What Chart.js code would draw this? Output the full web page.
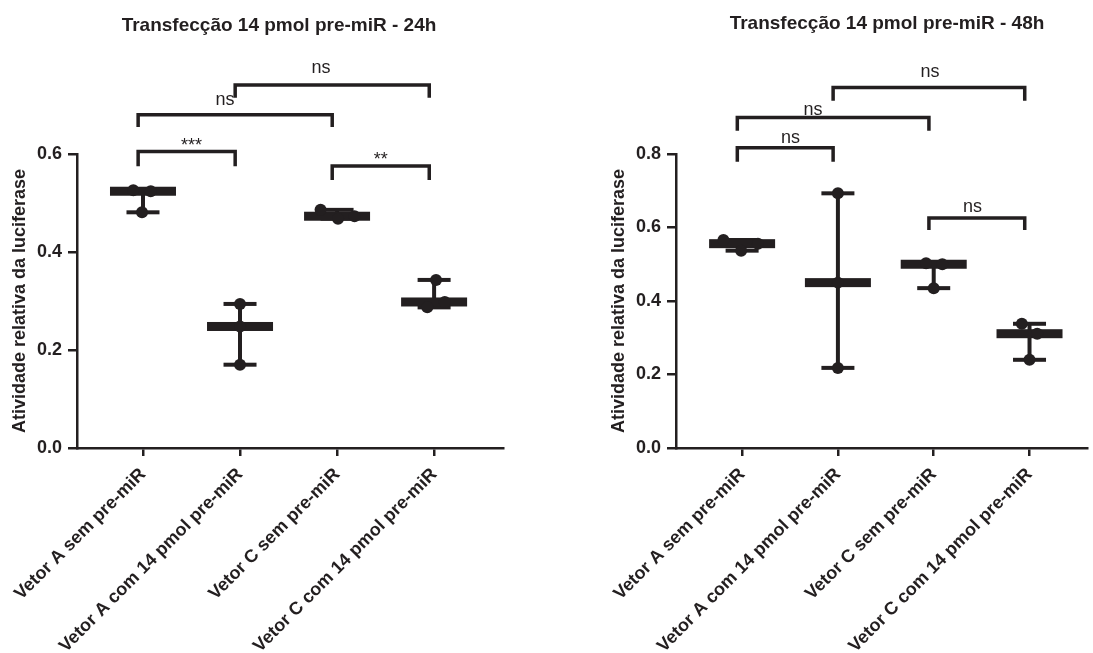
<!DOCTYPE html>
<html><head><meta charset="utf-8">
<script src="https://cdn.jsdelivr.net/npm/chart.js@4.4.1/dist/chart.umd.min.js"></script>
<style>
html,body{margin:0;padding:0;background:#fff;}
#wrap{position:relative;width:1093px;height:653px;overflow:hidden;background:#fff;}
#c24{position:absolute;left:0;top:0;width:545px;height:653px;}
#c48{position:absolute;left:545px;top:0;width:548px;height:653px;}
</style></head><body>
<div id="wrap"><canvas id="c24" width="545" height="653"></canvas><canvas id="c48" width="548" height="653"></canvas></div>
<script>
// ---------- data ----------
const categories = ["Vetor A sem pre-miR", "Vetor A com 14 pmol pre-miR", "Vetor C sem pre-miR", "Vetor C com 14 pmol pre-miR"];
const yAxisTitle = "Atividade relativa da luciferase";
const title24 = "Transfecção 14 pmol pre-miR - 24h";
const title48 = "Transfecção 14 pmol pre-miR - 48h";
const yMax24 = 0.6;
const yMax48 = 0.8;
const yStep = 0.2;

// replicate values per group (3 each)
const values24 = [
  [0.526, 0.524, 0.481],
  [0.294, 0.248, 0.170],
  [0.486, 0.468, 0.473],
  [0.343, 0.287, 0.298]
];
const jitter24 = [
  [-0.10, 0.08, -0.01],
  [0, 0, 0],
  [-0.17, 0.01, 0.18],
  [0.02, -0.07, 0.11]
];
const values48 = [
  [0.566, 0.537, 0.556],
  [0.693, 0.450, 0.218],
  [0.503, 0.500, 0.435],
  [0.338, 0.311, 0.240]
];
const jitter48 = [
  [-0.195, -0.01, 0.165],
  [0, 0, 0],
  [-0.08, 0.09, 0],
  [-0.08, 0.08, 0]
];

// significance comparisons: groups (1-based), label, bracket top, leg end, label baseline, label x
const brackets24 = [
  {from: 1, to: 2, label: "***", top: 0.605, leg: 0.575, text: 0.606, at: 1.50},
  {from: 3, to: 4, label: "**",  top: 0.5755, leg: 0.547, text: 0.577, at: 3.45},
  {from: 1, to: 3, label: "ns",  top: 0.680, leg: 0.655, text: 0.699, at: 1.845},
  {from: 2, to: 4, label: "ns",  top: 0.741, leg: 0.715, text: 0.765, at: 2.835}
];
const brackets48 = [
  {from: 1, to: 2, label: "ns", top: 0.817, leg: 0.779, text: 0.830, at: 1.504},
  {from: 3, to: 4, label: "ns", top: 0.626, leg: 0.593, text: 0.643, at: 3.405},
  {from: 1, to: 3, label: "ns", top: 0.899, leg: 0.863, text: 0.907, at: 1.74},
  {from: 2, to: 4, label: "ns", top: 0.981, leg: 0.945, text: 1.010, at: 2.96}
];

// ---------- drawing ----------
const INK = '#231f20';
const FAM = "'Liberation Sans', Arial, Helvetica, sans-serif";

const medianRange = {
  id: 'medianRange',
  beforeDatasetsDraw(chart, args, opts) {
    const {ctx} = chart; const x = chart.scales.x, y = chart.scales.y;
    ctx.save();
    ctx.fillStyle = INK; ctx.strokeStyle = INK;
    opts.groups.forEach((vals, i) => {
      const s = [...vals].sort((a, b) => a - b);
      const lo = s[0], hi = s[s.length - 1], med = s[Math.floor(s.length / 2)];
      const cx = x.getPixelForValue(i + 1);
      ctx.lineWidth = 4;
      ctx.beginPath();
      ctx.moveTo(cx, y.getPixelForValue(lo));
      ctx.lineTo(cx, y.getPixelForValue(hi));
      ctx.stroke();
      [lo, hi].forEach(v => { const py = y.getPixelForValue(v); ctx.fillRect(cx - 16.5, py - 2, 33, 4); });
      const pm = y.getPixelForValue(med);
      ctx.fillRect(cx - 33, pm - 4.5, 66, 9);
    });
    ctx.restore();
  }
};

const sigBrackets = {
  id: 'sigBrackets',
  afterDraw(chart, args, opts) {
    const {ctx} = chart; const x = chart.scales.x, y = chart.scales.y;
    ctx.save();
    ctx.strokeStyle = INK; ctx.fillStyle = INK;
    ctx.lineWidth = 3.5; ctx.lineJoin = 'miter'; ctx.lineCap = 'butt';
    ctx.font = '18px ' + FAM; ctx.textAlign = 'center'; ctx.textBaseline = 'alphabetic';
    opts.items.forEach(b => {
      const x1 = x.getPixelForValue(b.from - 0.05), x2 = x.getPixelForValue(b.to - 0.05);
      const yt = y.getPixelForValue(b.top), yl = y.getPixelForValue(b.leg);
      ctx.beginPath();
      ctx.moveTo(x1, yl); ctx.lineTo(x1, yt); ctx.lineTo(x2, yt); ctx.lineTo(x2, yl);
      ctx.stroke();
      ctx.fillText(b.label, x.getPixelForValue(b.at), y.getPixelForValue(b.text));
    });
    ctx.restore();
  }
};

const plotTitle = {
  id: 'plotTitle',
  afterDraw(chart, args, opts) {
    const {ctx, chartArea} = chart;
    ctx.save();
    ctx.fillStyle = INK; ctx.font = 'bold 19px ' + FAM;
    ctx.textAlign = 'center'; ctx.textBaseline = 'alphabetic';
    ctx.fillText(opts.text, (chartArea.left + chartArea.right) / 2 + opts.dx, opts.baseline);
    ctx.restore();
  }
};

function makeChart(id, values, jitter, brackets, yMax, title, cfg) {
  const pts = [];
  values.forEach((vals, i) => vals.forEach((v, j) => pts.push({x: i + 1 + jitter[i][j], y: v})));
  return new Chart(document.getElementById(id), {
    type: 'scatter',
    data: {datasets: [{data: pts, pointRadius: 6, pointHoverRadius: 6, backgroundColor: INK, borderWidth: 0, showLine: false}]},
    options: {
      responsive: false, animation: false, events: [],
      layout: {padding: {top: 154, left: 0, right: cfg.padRight, bottom: 0}},
      plugins: {
        legend: {display: false}, tooltip: {enabled: false},
        medianRange: {groups: values},
        sigBrackets: {items: brackets},
        plotTitle: {text: title, dx: cfg.titleDx, baseline: cfg.titleBase}
      },
      scales: {
        x: {
          type: 'linear', min: cfg.xMin, max: cfg.xMax,
          afterBuildTicks: s => { s.ticks = categories.map((c, i) => ({value: i + 1})); },
          afterFit: s => { s.height = 205; s.paddingLeft = 0; s.paddingRight = 0; },
          ticks: {autoSkip: false, minRotation: 45, maxRotation: 45, padding: 8, color: INK,
                  font: {family: FAM, size: 18, weight: 'bold'},
                  callback: v => categories[Math.round(v) - 1] || ''},
          grid: {drawOnChartArea: false, drawTicks: true, tickLength: 8, lineWidth: 2.5, tickWidth: 2.5, tickColor: INK, color: INK},
          border: {display: true, color: INK, width: 2.5}
        },
        y: {
          min: 0, max: yMax,
          afterFit: s => { s.width = cfg.yWidth; s.paddingTop = 0; s.paddingBottom = 0; },
          ticks: {stepSize: yStep, padding: 6, color: INK, font: {family: FAM, size: 18, weight: 'bold'},
                  callback: v => Number(v).toFixed(1)},
          title: {display: true, text: yAxisTitle, color: INK, font: {family: FAM, size: 18, weight: 'bold'},
                  padding: {top: cfg.yTitlePad, bottom: 0}},
          grid: {drawOnChartArea: false, drawTicks: true, tickLength: 9, lineWidth: 2.5, tickWidth: 2.5, tickColor: INK, color: INK},
          border: {display: true, color: INK, width: 2.5}
        }
      }
    },
    plugins: [medianRange, sigBrackets, plotTitle]
  });
}

makeChart('c24', values24, jitter24, brackets24, yMax24, title24,
  {padRight: 42, xMin: 0.32, xMax: 4.71, yWidth: 77, yTitlePad: 9, titleDx: -11, titleBase: 31});
makeChart('c48', values48, jitter48, brackets48, yMax48, title48,
  {padRight: 0, xMin: 0.31, xMax: 4.6, yWidth: 131, yTitlePad: 63, titleDx: 5.5, titleBase: 29});
</script>
</body></html>
